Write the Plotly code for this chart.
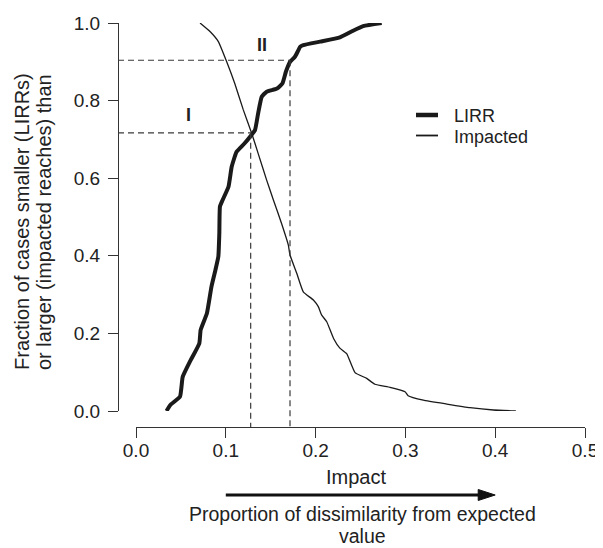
import plotly.graph_objects as go

# ---- data ----
lirr_x = [0.034, 0.038, 0.049, 0.052, 0.060, 0.0705, 0.072, 0.079, 0.084, 0.088, 0.0917,
          0.0928, 0.0935, 0.0965, 0.103, 0.1066, 0.112, 0.121, 0.127, 0.1325, 0.136, 0.14,
          0.1455, 0.157, 0.163, 0.167, 0.1715, 0.177, 0.183, 0.1863, 0.205, 0.227, 0.240,
          0.253, 0.2736]
lirr_y = [0.0, 0.015, 0.037, 0.088, 0.127, 0.174, 0.209, 0.252, 0.32, 0.359, 0.398,
          0.458, 0.527, 0.544, 0.578, 0.63, 0.668, 0.69, 0.707, 0.724, 0.767, 0.81,
          0.823, 0.831, 0.844, 0.875, 0.90, 0.913, 0.939, 0.943, 0.952, 0.963, 0.978,
          0.992, 1.0]
imp_x = [0.0713, 0.0824, 0.0917, 0.101, 0.110, 0.1195, 0.1288, 0.136, 0.1455, 0.153, 0.162,
         0.1696, 0.1715, 0.179, 0.1863, 0.1975, 0.203, 0.2068, 0.2124, 0.22, 0.227, 0.2346,
         0.2439, 0.2569, 0.266, 0.2829, 0.2996, 0.303, 0.32, 0.346, 0.372, 0.398, 0.423]
imp_y = [1.0, 0.978, 0.952, 0.90, 0.844, 0.776, 0.716, 0.664, 0.595, 0.544, 0.484,
         0.428, 0.402, 0.355, 0.307, 0.286, 0.269, 0.247, 0.23, 0.187, 0.162, 0.148,
         0.099, 0.084, 0.069, 0.061, 0.0498, 0.0395, 0.028, 0.018, 0.0086, 0.0026, 0.0]
series_names = ["LIRR", "Impacted"]
thresholds = [(0.1277, 0.717, "I"), (0.1715, 0.904, "II")]
x_ticks = [0.0, 0.1, 0.2, 0.3, 0.4, 0.5]
y_ticks = [0.0, 0.2, 0.4, 0.6, 0.8, 1.0]
arrow_span = (0.1, 0.4)

# ---- layout geometry (page body adds an 8px offset) ----
OFF = 8
W, H = 603 - OFF, 548 - OFF
ML, MR, MT, MB = 118 - OFF, 18, 23 - OFF, 121
PW, PH = W - ML - MR, H - MT - MB
XR, YR = [0, 0.5], [0, 1]
XD = [18 / PW, 1]
YD = [16 / PH, 1]
FONT = "Liberation Sans, Arial, sans-serif"
INK = "#222222"
LINE = "#1a1a1a"
WIDTHS = [4, 1.3]


def xp(v):  # data x -> paper x
    return XD[0] + (v - XR[0]) / (XR[1] - XR[0]) * (XD[1] - XD[0])


def yp(v):  # data y -> paper y
    return YD[0] + (v - YR[0]) / (YR[1] - YR[0]) * (YD[1] - YD[0])


def px_x(p):  # screen pixel x -> paper
    return (p - OFF - ML) / PW


def px_y(p):  # screen pixel y -> paper
    return (H + OFF - MB - p) / PH


def label(text, x, y, size=20, angle=0, xanchor="center"):
    return dict(text=text, x=px_x(x), y=px_y(y), xref="paper", yref="paper",
                xanchor=xanchor, yanchor="middle", textangle=angle, showarrow=False,
                font=dict(size=size, color=INK, family=FONT))


fig = go.Figure()
fig.add_trace(go.Scatter(x=lirr_x, y=lirr_y, mode="lines", name=series_names[0],
                         line=dict(color=LINE, width=WIDTHS[0], shape="spline", smoothing=0.4)))
fig.add_trace(go.Scatter(x=imp_x, y=imp_y, mode="lines", name=series_names[1],
                         line=dict(color=LINE, width=WIDTHS[1], shape="spline", smoothing=0.4)))

shapes = []
annotations = []
for tx, ty, lab in thresholds:
    shapes.append(dict(type="line", xref="paper", yref="paper", x0=0, x1=xp(tx),
                       y0=yp(ty), y1=yp(ty), line=dict(color="#3a3a3a", width=1.2, dash="6px,4px")))
    shapes.append(dict(type="line", xref="paper", yref="paper", x0=xp(tx), x1=xp(tx),
                       y0=yp(ty), y1=0, line=dict(color="#3a3a3a", width=1.2, dash="6px,4px")))

annotations.append(label("<b>I</b>", 188, 115, size=18))
annotations.append(label("<b>II</b>", 262, 45, size=18))

# legend (drawn by hand for exact spacing)
for i, (name, w) in enumerate(zip(series_names, WIDTHS)):
    ly = 115 + i * 20.5
    shapes.append(dict(type="line", xref="paper", yref="paper", x0=px_x(416), x1=px_x(438),
                       y0=px_y(ly), y1=px_y(ly), line=dict(color=LINE, width=w + 0.5)))
    annotations.append(label(name, 452, ly + 1, size=18, xanchor="left"))

# arrow below x axis
ay = px_y(495)
a0, a1 = xp(arrow_span[0]), xp(arrow_span[1])
head_len = 17 / PW
head_half = 5.5 / PH
shapes.append(dict(type="line", xref="paper", yref="paper", x0=a0, x1=a1 - head_len * 0.8,
                   y0=ay, y1=ay, line=dict(color="#111111", width=3)))
shapes.append(dict(type="path", xref="paper", yref="paper",
                   path=f"M {a1 - head_len} {ay - head_half} L {a1} {ay} L {a1 - head_len} {ay + head_half} Z",
                   fillcolor="#111111", line=dict(color="#111111", width=1)))

# titles
annotations.append(label("Fraction of cases smaller (LIRRs)", 22, 222, angle=-90))
annotations.append(label("or larger (impacted reaches) than", 44, 222, angle=-90))
annotations.append(label("Impact", 356, 477))
annotations.append(label("Proportion of dissimilarity from expected", 362, 514, size=19.5))
annotations.append(label("value", 362, 536, size=19.5))

axis_common = dict(showgrid=False, zeroline=False, showline=True, linecolor="#333333",
                   linewidth=1.2, ticks="outside", ticklen=10, tickwidth=1.2,
                   tickcolor="#333333", tickfont=dict(size=19, color=INK, family=FONT),
                   tickformat=".1f", tickmode="array", automargin=False)

fig.update_layout(
    width=W, height=H,
    margin=dict(l=ML, r=MR, t=MT, b=MB, pad=0, autoexpand=False),
    paper_bgcolor="white", plot_bgcolor="white",
    xaxis=dict(range=XR, domain=XD, anchor="free", position=0, tickvals=x_ticks,
               ticklabelstandoff=-4, **axis_common),
    yaxis=dict(range=YR, domain=YD, anchor="free", position=0, tickvals=y_ticks,
               ticklabelstandoff=4, **axis_common),
    showlegend=False,
    shapes=shapes,
    annotations=annotations,
)

fig.write_html("out.html")
